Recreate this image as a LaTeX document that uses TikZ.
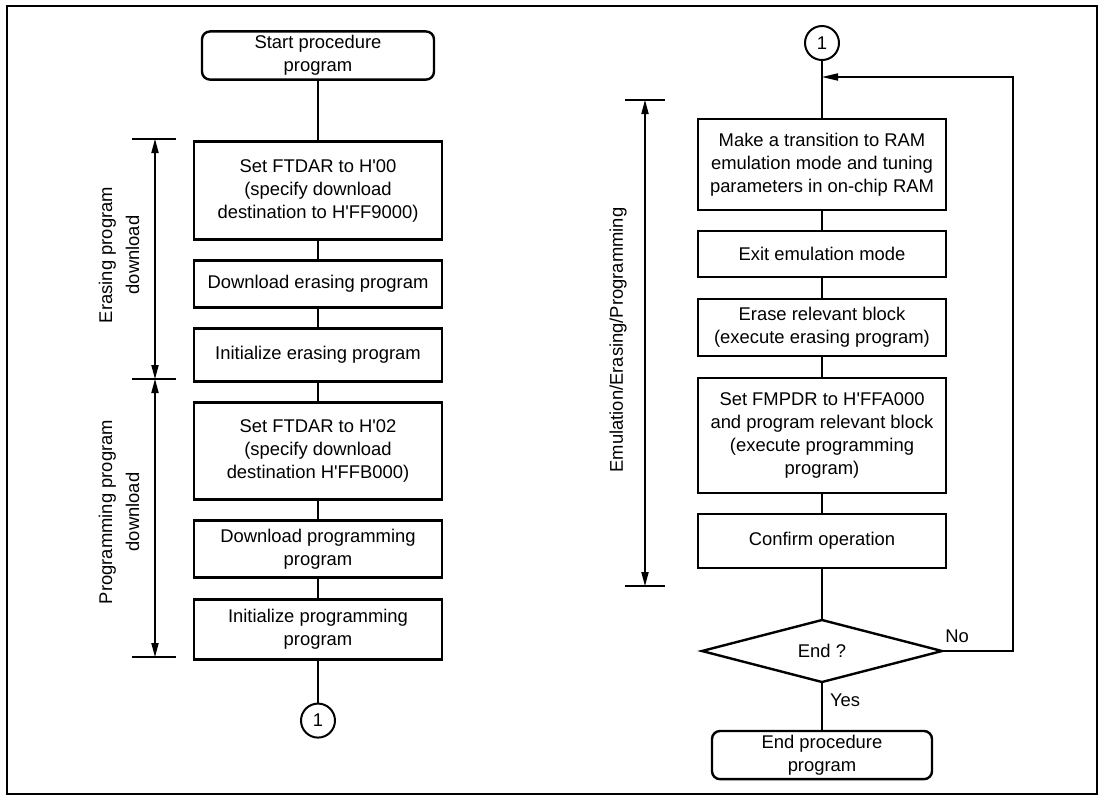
\documentclass[tikz,border=0pt]{standalone}
\usepackage{fontspec}
\newfontfamily\diagfont{Liberation Sans}
\usepackage{tikz}
\usetikzlibrary{shapes.geometric,arrows.meta,positioning}

\begin{document}
\begin{tikzpicture}[
    x=0.5pt, y=-0.5pt,
    node distance=10.5pt,
    every node/.style={font=\diagfont\fontsize{9.2}{11.5}\selectfont},
    block/.style={rectangle, draw, line width=1.2pt, outer sep=0pt, minimum width=124pt, align=center, inner sep=2pt},
    term/.style={block, rounded corners=4pt, minimum width=116pt},
    conn/.style={circle, draw, line width=1pt, outer sep=0pt, minimum size=17pt, inner sep=0pt},
    decide/.style={diamond, draw, line width=1.2pt, outer sep=0pt, minimum width=120pt, minimum height=31pt, inner sep=0pt},
    link/.style={line width=0.6pt},
    span/.style={line width=0.6pt, {Triangle[length=7pt,width=3.6pt]}-{Triangle[length=7pt,width=3.6pt]}},
    arrow/.style={line width=0.6pt, -{Triangle[length=8pt,width=3.6pt]}}
]
\useasboundingbox (0,0) rectangle (1103,800);
\draw[line width=1.1pt] (7,6) rectangle (1097,794);

\node[term, minimum height=21.5pt] (start) at (318,55.5) {Start procedure\\program};
\node[block, minimum height=49pt, below=31pt of start] (setera) {Set FTDAR to H'00\\(specify download\\destination to H'FF9000)};
\node[block, minimum height=23.5pt, below=of setera] (dlera) {Download erasing program};
\node[block, minimum height=26.5pt, below=of dlera] (iniera) {Initialize erasing program};
\node[block, minimum height=48.5pt, below=of iniera] (setprg) {Set FTDAR to H'02\\(specify download\\destination H'FFB000)};
\node[block, minimum height=28.5pt, below=of setprg] (dlprg) {Download programming\\program};
\node[block, minimum height=30pt, below=11pt of dlprg] (iniprg) {Initialize programming\\program};
\node[conn, below=22pt of iniprg] (conL) {1};

\node[conn] (conR) at (822,43) {1};
\node[block, minimum height=45.5pt, below=29.5pt of conR] (ramemu) {Make a transition to RAM\\emulation mode and tuning\\parameters in on-chip RAM};
\node[block, minimum height=23pt, below=of ramemu] (exitemu) {Exit emulation mode};
\node[block, minimum height=28.5pt, below=11pt of exitemu] (erase) {Erase relevant block\\(execute erasing program)};
\node[block, minimum height=57.5pt, below=11pt of erase] (program) {Set FMPDR to H'FFA000\\and program relevant block\\(execute programming\\program)};
\node[block, minimum height=27pt, below=of program] (confirm) {Confirm operation};
\node[decide, below=26pt of confirm] (isend) {End ?};
\node[term, minimum width=110pt, minimum height=22.5pt, below=24.5pt of isend] (finish) {End procedure\\program};

\node (no) at (957,636) {No};
\node (yes) at (845,700) {Yes};

\coordinate (eraTop) at (155,139);
\coordinate (eraBot) at (155,379);
\coordinate (prgBot) at (155,657);
\coordinate (emuTop) at (645,100);
\coordinate (emuBot) at (645,586);
\coordinate (merge) at (822,77);
\coordinate (loopc) at (1013,77);

\node[rotate=90, align=center] (eralbl) at (119,255) {Erasing program\\[2pt]download};
\node[rotate=90, align=center] (prglbl) at (119,512) {Programming program\\[2pt]download};
\node[rotate=90] (emulbl) at (618,340) {Emulation/Erasing/Programming};

\draw[link] (start) -- (setera);
\draw[link] (setera) -- (dlera);
\draw[link] (dlera) -- (iniera);
\draw[link] (iniera) -- (setprg);
\draw[link] (setprg) -- (dlprg);
\draw[link] (dlprg) -- (iniprg);
\draw[link] (iniprg) -- (conL);
\draw[link] (conR) -- (ramemu);
\draw[link] (ramemu) -- (exitemu);
\draw[link] (exitemu) -- (erase);
\draw[link] (erase) -- (program);
\draw[link] (program) -- (confirm);
\draw[link] (confirm) -- (isend);
\draw[link] (isend) -- (finish);
\draw[arrow] (isend.east) -| (loopc) -- (merge);

\draw[link] (eraTop) ++(-23,0) -- ++(44,0);
\draw[link] (eraBot) ++(-23,0) -- ++(44,0);
\draw[link] (prgBot) ++(-23,0) -- ++(44,0);
\draw[link] (emuTop) ++(-20,0) -- ++(40,0);
\draw[link] (emuBot) ++(-20,0) -- ++(40,0);
\draw[span] (eraTop) -- (eraBot);
\draw[span] (eraBot) -- (prgBot);
\draw[span] (emuTop) -- (emuBot);
\end{tikzpicture}
\end{document}
